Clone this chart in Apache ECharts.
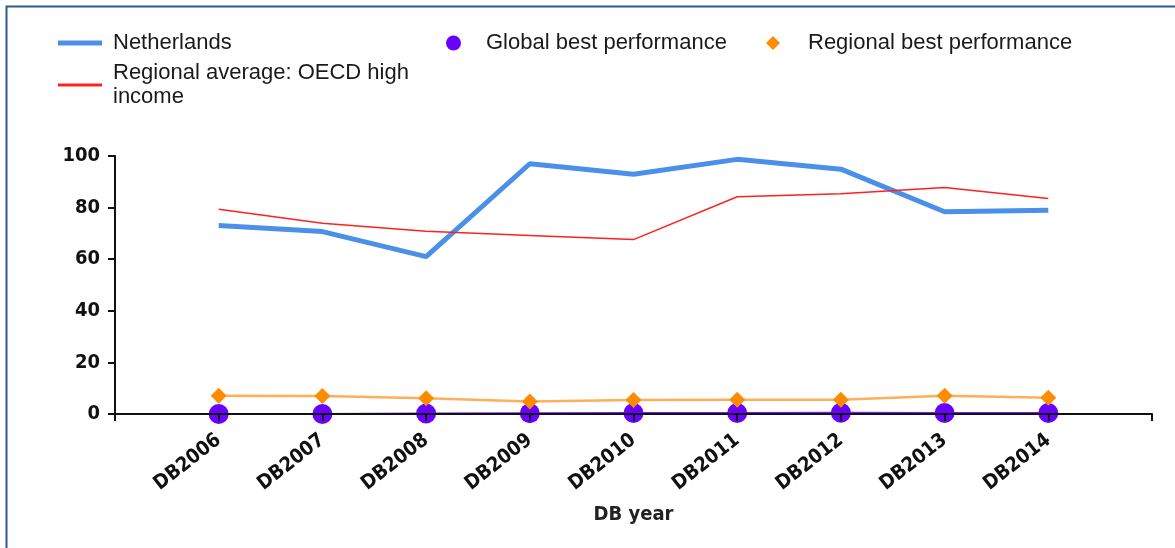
<!DOCTYPE html>
<html>
<head>
<meta charset="utf-8">
<script src="https://cdn.jsdelivr.net/npm/echarts@6/dist/echarts.min.js"></script>
<style>
html,body{margin:0;padding:0;background:#fff;}
#chart{width:1175px;height:548px;}
</style>
</head>
<body>
<div id="chart"></div>
<script>
const categories = ['', 'DB2006', 'DB2007', 'DB2008', 'DB2009', 'DB2010', 'DB2011', 'DB2012', 'DB2013', 'DB2014', ''];
const netherlands = [null, 73.1, 70.7, 61.0, 97.0, 92.9, 98.7, 94.9, 78.4, 79.0, null];
const regionalAverage = [null, 79.4, 73.9, 70.8, 69.2, 67.6, 84.2, 85.4, 87.8, 83.5, null];
const globalBest = [null, 0, 0, 0.2, 0.3, 0.4, 0.4, 0.5, 0.4, 0.4, null];
const regionalBest = [null, 7.1, 7.0, 6.1, 4.8, 5.4, 5.5, 5.5, 7.1, 6.3, null];
const yTicks = { min: 0, max: 100, interval: 20 };

const NL = 'Netherlands';
const RA = 'Regional average: OECD high income';
const GB = 'Global best performance';
const RB = 'Regional best performance';

const legendText = { fontFamily: 'Liberation Sans, Arial, sans-serif', fontSize: 22, color: '#1a1a1a', lineHeight: 24 };
const axisFont = 'DejaVu Sans Condensed, DejaVu Sans, sans-serif';

const chart = echarts.init(document.getElementById('chart'));
chart.setOption({
  animation: false,
  backgroundColor: '#fff',
  graphic: [{
    type: 'rect', left: 4, top: 4, z: 100, silent: true,
    shape: { width: 1300, height: 700 },
    style: { fill: 'none', stroke: '#2a5a96', lineWidth: 2 }
  }],
  legend: [
    { data: [{ name: NL, icon: 'rect' }], left: 58, top: 31, padding: 0, itemWidth: 44, itemHeight: 5,
      textStyle: Object.assign({}, legendText, { padding: [0, 0, 0, 6] }), selectedMode: false },
    { data: [{ name: RA, icon: 'rect' }], left: 58, top: 61, padding: 0, itemWidth: 44, itemHeight: 3,
      formatter: n => 'Regional average: OECD high\nincome',
      textStyle: Object.assign({}, legendText, { padding: [0, 0, 0, 6] }), selectedMode: false },
    { data: [{ name: GB, icon: 'circle' }], left: 446, top: 31, padding: 0, itemWidth: 15, itemHeight: 15,
      textStyle: Object.assign({}, legendText, { padding: [0, 0, 0, 20] }), selectedMode: false },
    { data: [{ name: RB, icon: 'path://M0,-1L1,0L0,1L-1,0Z' }], left: 766, top: 31, padding: 0, itemWidth: 14, itemHeight: 14,
      textStyle: Object.assign({}, legendText, { padding: [0, 0, 0, 23] }), selectedMode: false }
  ],
  grid: { left: 115, right: 23, top: 156, bottom: 134, containLabel: false },
  xAxis: {
    type: 'category', data: categories, boundaryGap: false, z: 5,
    name: 'DB year', nameLocation: 'middle', nameGap: 91,
    nameTextStyle: { fontFamily: axisFont, fontWeight: 'bold', fontSize: 20, color: '#222' },
    axisLine: { lineStyle: { color: '#111', width: 2 } },
    axisTick: { show: true, length: 7, alignWithLabel: true, lineStyle: { color: '#111', width: 2 } },
    axisLabel: { rotate: 38, interval: 0, margin: 24, fontFamily: axisFont, fontWeight: 'bold', fontSize: 20, color: '#111' },
    splitLine: { show: false }
  },
  yAxis: {
    type: 'value', min: yTicks.min, max: yTicks.max, interval: yTicks.interval, z: 5,
    axisLine: { show: true, lineStyle: { color: '#111', width: 2 } },
    axisTick: { show: true, length: 7, lineStyle: { color: '#111', width: 2 } },
    axisLabel: { margin: 15, fontFamily: axisFont, fontWeight: 'bold', fontSize: 20, color: '#111' },
    splitLine: { show: false }
  },
  series: [
    { name: NL, type: 'line', data: netherlands, showSymbol: false, symbol: 'none',
      itemStyle: { color: '#4a90e8' }, lineStyle: { color: '#4a90e8', width: 5 }, z: 3 },
    { name: RA, type: 'line', data: regionalAverage, showSymbol: false, symbol: 'none',
      itemStyle: { color: '#ff2020' }, lineStyle: { color: '#ff2020', width: 1.5 }, z: 3 },
    { name: GB, type: 'line', data: globalBest, symbol: 'circle', symbolSize: 20,
      itemStyle: { color: '#6a00ff' }, lineStyle: { color: '#7a1cff', width: 2 }, z: 2 },
    { name: RB, type: 'line', data: regionalBest, symbol: 'diamond', symbolSize: 16,
      itemStyle: { color: '#ff8c00' }, lineStyle: { color: '#ffae5a', width: 2.5 }, z: 3 }
  ]
});
</script>
</body>
</html>
